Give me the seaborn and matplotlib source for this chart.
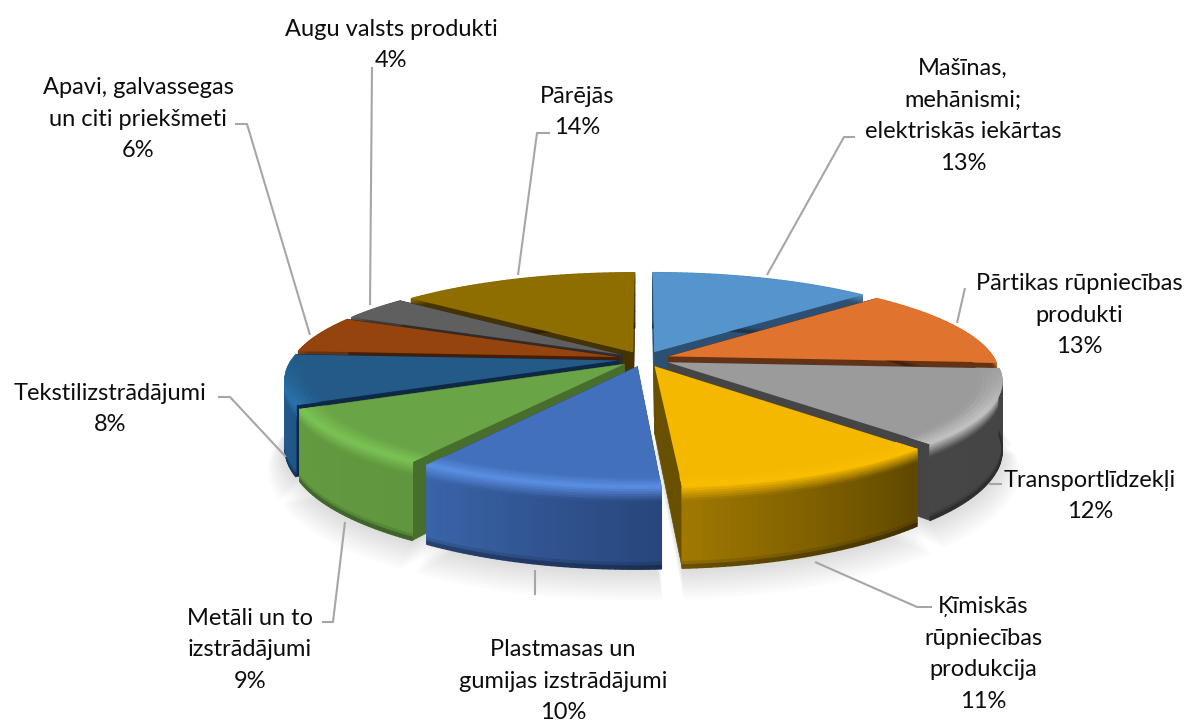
import numpy as np
import matplotlib
matplotlib.use("Agg")
import matplotlib.pyplot as plt
import matplotlib.transforms as mtransforms
from matplotlib.collections import PolyCollection
import seaborn as sns

# data, clockwise from the top
categories = ["Mašīnas,\nmehānismi;\nelektriskās iekārtas", "Pārtikas rūpniecības\nprodukti", "Transportlīdzekļi",
              "Ķīmiskās\nrūpniecības\nprodukcija", "Plastmasas un\ngumijas izstrādājumi", "Metāli un to\nizstrādājumi",
              "Tekstilizstrādājumi", "Apavi, galvassegas\nun citi priekšmeti", "Augu valsts produkti", "Pārējās"]
shares = [13, 13, 12, 11, 10, 9, 8, 6, 4, 14]

# colours: top, inner cut, wall left, wall right, bevel highlight
top_colors = ["#5594CC", "#E0742E", "#9B9B9B", "#F4B800", "#4270BC", "#69A546", "#235A87", "#94440C", "#5F5F5F", "#8F6E00"]
cut_colors = ["#2C5073", "#643214", "#454545", "#695000", "#2F5597", "#486E2D", "#0F2846", "#461E05", "#2D2D2D", "#463400"]
wall_left = ["#2C5073", "#643214", "#464646", "#A07800", "#3A64A8", "#649B41", "#256094", "#643214", "#3C3C3C", "#463400"]
wall_right = ["#2C5073", "#643214", "#444444", "#5F4800", "#28467C", "#5F963E", "#1F5688", "#643214", "#3C3C3C", "#463400"]
bevel_colors = ["#5594CC", "#E0742E", "#C4C4C4", "#FABE00", "#5C90E4", "#7CC455", "#2C78B4", "#94440C", "#5F5F5F", "#8F6E00"]

# where the labels and their leader lines sit (pixels)
label_pos = [(963, 116), (1079, 315), (1090, 496), (983, 654), (563, 681), (250, 650), (110, 409), (138, 119), (391, 45), (577, 112)]
leaders = [[(855, 137), (844, 137), (767, 275)], [(965, 288), (957, 323)], [(1002, 484), (989, 484)],
           [(932, 607), (917, 607), (815, 562)], [(535, 595), (535, 570)], [(322, 622), (333, 622), (345, 522)],
           [(218, 397), (230, 397), (286, 457)], [(235, 124), (247, 124), (310, 335)], [(372, 67), (370, 305)],
           [(550, 133), (537, 133), (518, 275)]]

# view of the disc
CX, CY = 644, 359
A, B, K, H = 326, 96, 0.18, 66
EXPLODE = 0.08


def project(x, y, t=0.0):
    w = 1 + K * y
    return CX + A * x / w, CY + (H * t - B * y) / w


class Tilt(mtransforms.Transform):
    input_dims = 2
    output_dims = 2

    def transform_non_affine(self, xy):
        xy = np.asarray(xy)
        return np.column_stack(project(xy[:, 0], xy[:, 1]))


def mix(c1, c2, f):
    return tuple((1 - f) * np.array(c1) + f * np.array(c2))


sns.set_theme(style="white")
plt.rcParams["font.family"] = ["Lato", "DejaVu Sans"]

fig, ax = plt.subplots(figsize=(11.92, 7.24), dpi=100)
fig.subplots_adjust(0, 0, 1, 1)

wedges, _ = ax.pie(shares, startangle=90, counterclock=False, explode=[EXPLODE] * len(shares),
                   colors=top_colors, wedgeprops={"linewidth": 0})
ax.set_aspect("auto")
ax.set_xlim(0, 1192)
ax.set_ylim(724, 0)
ax.axis("off")

rgb = lambda c: matplotlib.colors.to_rgb(c)
tilt = Tilt() + ax.transData
mids = [np.radians((w.theta1 + w.theta2) / 2) for w in wedges]
order = np.argsort([-np.sin(m) for m in mids])

for rank, i in enumerate(order):
    w = wedges[i]
    cx, cy = w.center
    a1, a2 = np.radians(min(w.theta1, w.theta2)), np.radians(max(w.theta1, w.theta2))
    angles = np.linspace(a1, a2, 40)
    base = 10 + rank * 10

    # soft shadow below the slice
    for s in np.linspace(1.0, 1.05, 12):
        e = 1.02 + (s - 1.0) * 5.2
        xs = np.r_[cx, cx + s * np.cos(angles)]
        ys = np.r_[cy, cy + s * np.sin(angles)]
        px, py = project(xs, ys, e)
        ax.fill(px, py, color="black", alpha=0.012, lw=0, zorder=1)

    # the two cut faces
    for a in (a1, a2):
        fx, fy = np.cos(a), np.sin(a)
        px, py = project(np.array([cx, cx + fx, cx + fx, cx]), np.array([cy, cy + fy, cy + fy, cy]),
                         np.array([0, 0, 1, 1]))
        ax.fill(px, py, color=cut_colors[i], lw=0.5, zorder=base + 1)

    # outer wall, shaded along the arc and down the height
    ts = np.r_[0, 0.03, 0.06, 0.09, 0.12, 0.15, 0.18, 0.4, 0.7, 0.92, 0.96, 1.0]
    polys, cols = [], []
    for j in range(len(angles) - 1):
        f = j / (len(angles) - 2)
        base_c = mix(rgb(wall_left[i]), rgb(wall_right[i]), f)
        for k in range(len(ts) - 1):
            t0, t1 = ts[k], ts[k + 1]
            xa, ya = cx + np.cos(angles[j]), cy + np.sin(angles[j])
            xb, yb = cx + np.cos(angles[j + 1]), cy + np.sin(angles[j + 1])
            p = [project(xa, ya, t0), project(xb, yb, t0), project(xb, yb, t1), project(xa, ya, t1)]
            c = base_c
            tm = (t0 + t1) / 2
            if tm < 0.18:
                c = mix(rgb(bevel_colors[i]), base_c, tm / 0.18)
            elif tm > 0.92:
                c = mix(base_c, (0, 0, 0), (tm - 0.92) / 0.08 * 0.45)
            polys.append(p)
            cols.append(c)
    ax.add_collection(PolyCollection(polys, facecolors=cols, edgecolors=cols, linewidths=1.0, zorder=base + 2), autolim=False)

    # top face comes from the pie itself
    w.set_transform(tilt)
    w.set_clip_on(False)
    w.set_zorder(base + 3)

    # rim of the top face lights up towards the viewer
    rs = np.linspace(0.93, 1.0, 6)
    polys, cols = [], []
    for j in range(len(angles) - 1):
        am = (angles[j] + angles[j + 1]) / 2
        lit = np.clip(-np.sin(am) * 2.2, 0, 1)
        if lit <= 0:
            continue
        for k in range(len(rs) - 1):
            xa0, ya0 = cx + rs[k] * np.cos(angles[j]), cy + rs[k] * np.sin(angles[j])
            xb0, yb0 = cx + rs[k] * np.cos(angles[j + 1]), cy + rs[k] * np.sin(angles[j + 1])
            xb1, yb1 = cx + rs[k + 1] * np.cos(angles[j + 1]), cy + rs[k + 1] * np.sin(angles[j + 1])
            xa1, ya1 = cx + rs[k + 1] * np.cos(angles[j]), cy + rs[k + 1] * np.sin(angles[j])
            c = mix(rgb(top_colors[i]), rgb(bevel_colors[i]), lit * (k + 0.5) / (len(rs) - 1))
            polys.append([project(xa0, ya0), project(xb0, yb0), project(xb1, yb1), project(xa1, ya1)])
            cols.append(c)
    if polys:
        ax.add_collection(PolyCollection(polys, facecolors=cols, edgecolors=cols, linewidths=0.6, zorder=base + 4), autolim=False)

# leader lines
for pts in leaders:
    xs, ys = zip(*pts)
    ax.plot(xs, ys, color="#A6A6A6", lw=1.5, zorder=200, solid_capstyle="butt")

# labels
for name, pct, (x, y) in zip(categories, shares, label_pos):
    ax.text(x, y, f"{name}\n{pct}%", ha="center", va="center", fontsize=17, color="#0D0D0D",
            linespacing=1.62, zorder=210)

fig.savefig("out.png", dpi=100)
